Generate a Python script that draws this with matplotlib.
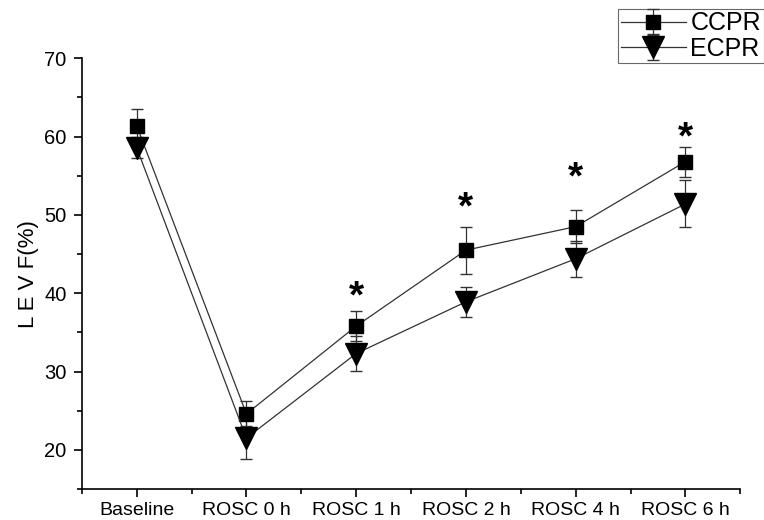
import numpy as np
import matplotlib.pyplot as plt

plt.rcParams['font.family'] = ['Liberation Sans', 'DejaVu Sans']

# data
groups = ["Baseline", "ROSC 0 h", "ROSC 1 h", "ROSC 2 h", "ROSC 4 h", "ROSC 6 h"]
ccpr = [61.4, 24.6, 35.8, 45.5, 48.5, 56.8]
ccpr_err = [2.1, 1.6, 1.9, 3.0, 2.1, 1.9]
ecpr = [58.6, 21.5, 32.3, 38.9, 44.4, 51.4]
ecpr_err = [1.3, 2.6, 2.2, 1.9, 2.3, 3.0]
star_y = [None, None, 39.5, 50.8, 54.6, 59.8]

x = np.arange(len(groups))

fig = plt.figure(figsize=(7.64, 5.2), dpi=100)
ax = fig.add_axes([0.107, 0.0595, 0.862, 0.8285])

ax.errorbar(x, ccpr, yerr=ccpr_err, fmt='s-', color='#333333', mfc='black', mec='black',
            ms=10, lw=0.9, elinewidth=0.9, ecolor='#333333', capsize=4, label='CCPR')
ax.errorbar(x, ecpr, yerr=ecpr_err, fmt='v-', color='#333333', mfc='black', mec='black',
            ms=16, lw=0.9, elinewidth=0.9, ecolor='#333333', capsize=4, label='ECPR')

for xi, sy in zip(x, star_y):
    if sy is not None:
        ax.text(xi, sy, '*', ha='center', va='center', fontsize=28, fontweight='bold')

ax.set_xlim(-0.5, 5.5)
ax.set_ylim(15, 70)
ax.set_xticks(x)
ax.set_xticklabels(groups, fontsize=14)
ax.set_xticks(np.arange(-0.5, 5.6, 1.0), minor=True)
ax.set_yticks([20, 30, 40, 50, 60, 70])
ax.set_yticks([15, 25, 35, 45, 55, 65], minor=True)
ax.tick_params(axis='y', labelsize=14.5, pad=5)
ax.tick_params(axis='x', pad=3)
ax.tick_params(which='major', direction='out', length=6, width=1.2)
ax.tick_params(which='minor', direction='out', length=3.5, width=1.2)
ax.set_ylabel('L E V F(%)', fontsize=16, labelpad=4)
ax.spines['top'].set_visible(False)
ax.spines['right'].set_visible(False)
ax.spines['left'].set_linewidth(1.2)
ax.spines['bottom'].set_linewidth(1.2)

leg = ax.legend(loc='upper left', bbox_to_anchor=(618 / 764, 1 - 9 / 520),
                bbox_transform=fig.transFigure, fontsize=18, frameon=True,
                fancybox=False, edgecolor='#444444', handlelength=2.6,
                borderpad=0.1, labelspacing=0.05, handletextpad=0.2, borderaxespad=0)
leg.get_frame().set_linewidth(0.8)

fig.savefig('out.png', dpi=100)
